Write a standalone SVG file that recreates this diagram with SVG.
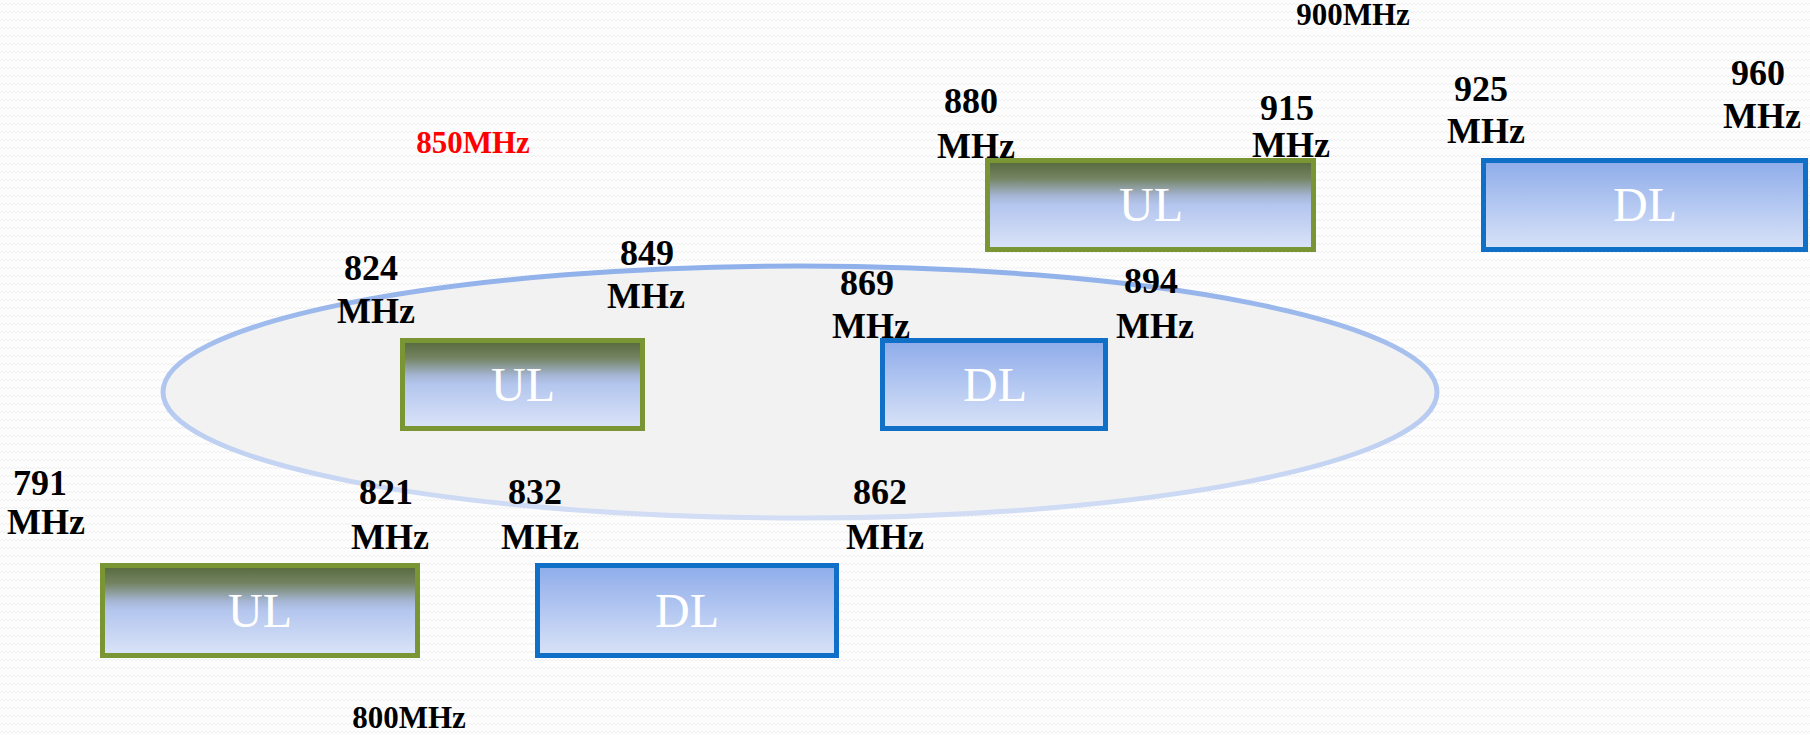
<svg xmlns="http://www.w3.org/2000/svg" width="1810" height="735" viewBox="0 0 1810 735">
<defs>
<pattern id="bg" width="8" height="8" patternUnits="userSpaceOnUse">
<rect width="8" height="8" fill="#fdfdfd"/>
<polyline points="0,5 2,3 4,5 6,3 8,5" fill="none" stroke="#f0f0f0" stroke-width="1"/>
</pattern>
<linearGradient id="gUL" x1="0" y1="0" x2="0" y2="1">
<stop offset="0" stop-color="#55683a"/>
<stop offset="0.2" stop-color="#748463"/>
<stop offset="0.4" stop-color="#a6b6d6"/>
<stop offset="0.5" stop-color="#b4c6ee"/>
<stop offset="1" stop-color="#dbe4f8"/>
</linearGradient>
<linearGradient id="gDL" x1="0" y1="0" x2="0" y2="1">
<stop offset="0" stop-color="#8eacea"/>
<stop offset="1" stop-color="#d9e3f8"/>
</linearGradient>
<linearGradient id="gEl" x1="0" y1="0" x2="0" y2="1">
<stop offset="0" stop-color="#8fb0ea"/>
<stop offset="1" stop-color="#d3def5"/>
</linearGradient>
<style>
.ul{fill:url(#gUL);stroke:#7a9634;stroke-width:5}
.dl{fill:url(#gDL);stroke:#1070c8;stroke-width:5}
.bt{font-family:"Liberation Serif","DejaVu Serif",serif;font-size:48px;fill:#ffffff;text-anchor:middle}
.f{font-family:"Liberation Serif","DejaVu Serif",serif;font-weight:bold;font-size:36px;fill:#000;text-anchor:middle;font-variant-numeric:oldstyle-nums}
.band{font-family:"Liberation Serif","DejaVu Serif",serif;font-weight:bold;font-size:31px;fill:#000;text-anchor:middle;font-variant-numeric:oldstyle-nums}
</style>
</defs>
<rect width="1810" height="735" fill="url(#bg)"/>

<g id="ellipse850">
<ellipse cx="800" cy="392" rx="637" ry="126" fill="#f2f2f2" stroke="url(#gEl)" stroke-width="5"/>
</g>

<g id="connectors"></g>

<g id="band900"><text class="band" x="1353" y="25">900MHz</text></g>
<g id="band850"><text class="band" x="473" y="153" style="fill:#ff0000">850MHz</text></g>
<g id="band800"><text class="band" x="409" y="728">800MHz</text></g>

<g id="ul900"><rect class="ul" x="987.5" y="160.5" width="326" height="89"/><text class="bt" x="1151" y="221">UL</text></g>
<g id="dl900"><rect class="dl" x="1483.5" y="160.5" width="322" height="89"/><text class="bt" x="1645" y="221">DL</text></g>
<g id="ul850"><rect class="ul" x="402.5" y="340.5" width="240" height="88"/><text class="bt" x="523" y="401">UL</text></g>
<g id="dl850"><rect class="dl" x="882.5" y="340.5" width="223" height="88"/><text class="bt" x="995" y="401">DL</text></g>
<g id="ul800"><rect class="ul" x="102.5" y="565.5" width="315" height="90"/><text class="bt" x="260" y="627">UL</text></g>
<g id="dl800"><rect class="dl" x="537.5" y="565.5" width="299" height="90"/><text class="bt" x="687" y="627">DL</text></g>

<g id="labels">
<text class="f" x="971" y="113">880</text><text class="f" x="976" y="158">MHz</text>
<text class="f" x="1287" y="120">915</text><text class="f" x="1291" y="157">MHz</text>
<text class="f" x="1481" y="101">925</text><text class="f" x="1486" y="143">MHz</text>
<text class="f" x="1758" y="85">960</text><text class="f" x="1762" y="128">MHz</text>
<text class="f" x="371" y="280">824</text><text class="f" x="376" y="323">MHz</text>
<text class="f" x="647" y="265">849</text><text class="f" x="646" y="308">MHz</text>
<text class="f" x="867" y="295">869</text><text class="f" x="871" y="338">MHz</text>
<text class="f" x="1151" y="293">894</text><text class="f" x="1155" y="338">MHz</text>
<text class="f" x="40" y="495">791</text><text class="f" x="46" y="534">MHz</text>
<text class="f" x="386" y="504">821</text><text class="f" x="390" y="549">MHz</text>
<text class="f" x="535" y="504">832</text><text class="f" x="540" y="549">MHz</text>
<text class="f" x="880" y="504">862</text><text class="f" x="885" y="549">MHz</text>
</g>
</svg>
